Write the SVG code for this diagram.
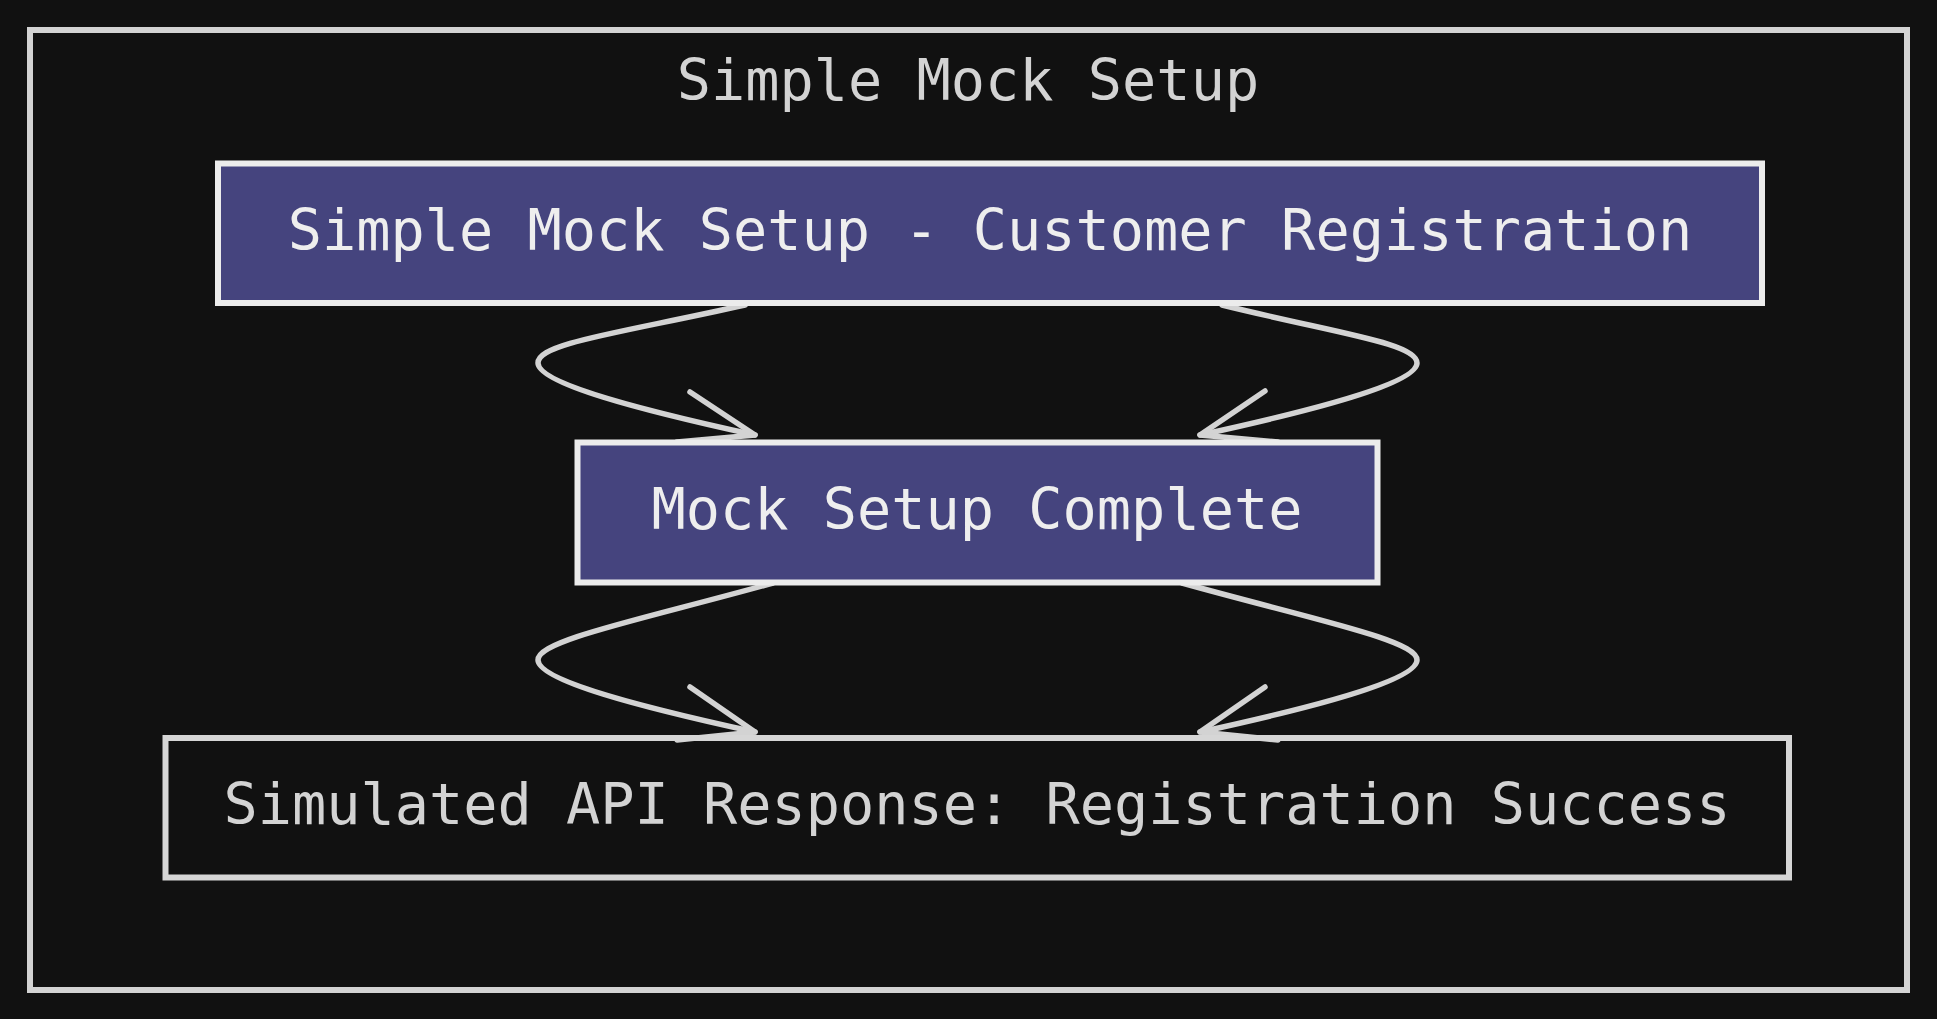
<svg xmlns="http://www.w3.org/2000/svg" width="1937" height="1019" viewBox="0 0 1937 1019">
<style>
.bg{fill:#111111}
.frame{fill:none;stroke:#d3d3d3;stroke-width:6}
.hl{fill:#45447e;stroke:#ececec;stroke-width:6}
.plain{fill:none;stroke:#d6d6d6;stroke-width:6}
.t{font-family:"DejaVu Sans Mono","Liberation Mono",monospace;font-size:56.9px;text-anchor:middle}
.tl{fill:#eeeeee}
.td{fill:#d3d3d3}
.edge{fill:none;stroke:#d3d3d3;stroke-width:5.5;stroke-linecap:round;stroke-linejoin:round}
</style>
<rect class="bg" x="0" y="0" width="1937" height="1019"/>
<g id="cluster">
<rect class="frame" x="30" y="30" width="1877" height="960"/>
<text class="t td" x="968" y="100">Simple Mock Setup</text>
</g>
<g id="connectors">
<path class="edge" d="M745,305 C620,333 538,343 538,363 C538,383 640,410 755,435"/>
<path class="edge" d="M690,392 L755,435 L677,442"/>
<path class="edge" d="M1222,305 C1335,333 1417,343 1417,363 C1417,383 1315,410 1200,435"/>
<path class="edge" d="M1265,391 L1200,435 L1278,442"/>
<path class="edge" d="M773,583 C640,620 538,640 538,660 C538,680 640,707 755,732"/>
<path class="edge" d="M690,687 L755,732 L677,740"/>
<path class="edge" d="M1182,583 C1315,620 1417,640 1417,660 C1417,680 1315,707 1200,732"/>
<path class="edge" d="M1265,687 L1200,732 L1278,740"/>
</g>
<g id="node-registration">
<rect class="hl" x="218" y="163.5" width="1544" height="139.5"/>
<text class="t tl" x="990" y="250">Simple Mock Setup - Customer Registration</text>
</g>
<g id="node-complete">
<rect class="hl" x="577.5" y="442.5" width="800" height="140"/>
<text class="t tl" x="977" y="529">Mock Setup Complete</text>
</g>
<g id="node-response">
<rect class="plain" x="165.5" y="738" width="1623.5" height="139.5"/>
<text class="t td" x="977" y="823.5">Simulated API Response: Registration Success</text>
</g>
</svg>
